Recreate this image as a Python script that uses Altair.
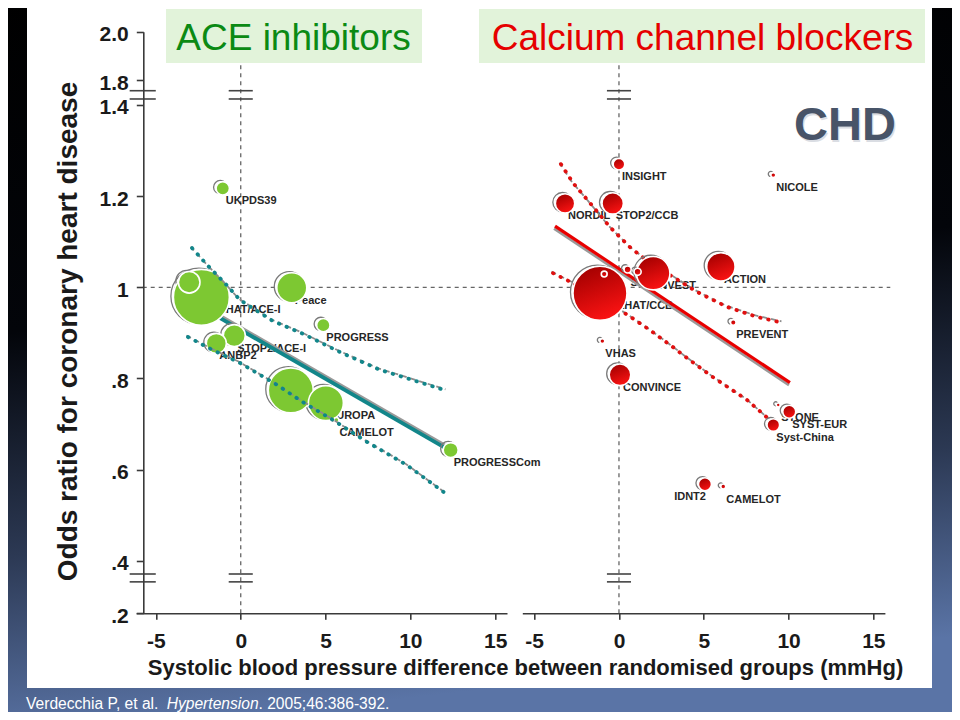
import altair as alt
import pandas as pd

# ---------------- data ----------------
# ACE inhibitors (left panel)
ace_study = ["ALLHAT/ACE-I", "HOPE", "EUROPA", "Peace", "STOP2/ACE-I", "QUIET",
             "ANBP2", "PROGRESSCom", "UKPDS39", "PROGRESS", "CAMELOT"]
ace_sbp = [-2.32, 2.95, 5.02, 3.01, -0.38, -3.04, -1.44, 12.38, -1.06, 4.87, 5.64]
ace_or = [0.978, 0.774, 0.746, 0.999, 0.894, 1.011, 0.877, 0.643, 1.217, 0.917, 0.709]
ace_weight = [100, 64.6, 39.1, 28.7, 15.4, 14.9, 12.8, 7.2, 5.7, 5.7, 0.8]

ace_fit_x = [-3.0, 12.0]
ace_fit_y = [0.971, 0.649]
ace_hi_x = [-2.87, -1.93, -0.93, -0.04, 1.90, 3.67, 5.85, 8.21, 12.16]
ace_hi_y = [1.086, 1.047, 1.009, 0.972, 0.926, 0.898, 0.858, 0.819, 0.773]
ace_lo_x = [-3.11, -1.63, -0.04, 2.14, 3.67, 5.44, 7.44, 9.80, 12.04]
ace_lo_y = [0.891, 0.862, 0.834, 0.786, 0.748, 0.709, 0.661, 0.610, 0.549]

# Calcium channel blockers (right panel)
ccb_study = ["ALLHAT/CCB", "INVEST", "ACTION", "CONVINCE", "STOP2/CCB", "NORDIL",
             "SYST-EUR", "IDNT2", "Syst-China", "INSIGHT", "SHELL", "", "",
             "PREVENT", "NICOLE", "VHAS", "CAMELOT", "STONE"]
ccb_sbp = [-1.12, 2.02, 6.01, 0.06, -0.37, -3.18, 10.04, 5.07, 9.10, 0.0, 0.51, 1.10,
           -0.87, 6.74, 9.10, -0.98, 6.15, 9.39]
ccb_or = [0.987, 1.031, 1.045, 0.808, 1.184, 1.184, 0.727, 0.568, 0.698, 1.270, 1.039,
          1.034, 1.029, 0.923, 1.246, 0.882, 0.563, 0.742]
ccb_weight = [93, 35.6, 25.7, 14.9, 14.6, 12.0, 5.4, 5.4, 5.1, 4.3, 1.6, 1.6, 1.1,
              1.0, 0.8, 0.8, 0.8, 0.5]

ccb_fit_x = [-3.77, 10.08]
ccb_fit_y = [1.134, 0.791]
ccb_hi_x = [-3.42, -2.71, -1.71, -0.53, 0.65, 1.83, 3.18, 4.60, 6.37, 8.14, 9.67]
ccb_hi_y = [1.270, 1.229, 1.185, 1.132, 1.088, 1.053, 1.023, 0.990, 0.957, 0.935, 0.922]
ccb_lo_x = [-3.89, -2.71, 0.53, 1.83, 3.18, 4.01, 5.54, 7.55, 8.90]
ccb_lo_y = [1.031, 1.009, 0.939, 0.906, 0.869, 0.845, 0.803, 0.753, 0.709]

x_ticks = [-5, 0, 5, 10, 15]
y_ticks = [0.2, 0.4, 0.6, 0.8, 1.0, 1.2, 1.4, 1.8, 2.0]
break_y = [1.628, 1.495, 0.35, 0.32]

# ---------------- layout / scales / styling ----------------
FONT = "Liberation Sans, Arial, sans-serif"
OX = 135.3          # left padding: the y axis sits at the left edge of the view
VIEW_W = 944 - OX
VIEW_H = 605.3      # x axes sit at the bottom edge of the view
PAD_B = 704 - VIEW_H

XL = alt.Scale(domain=[-6.17, 15.7], range=[128.1 - OX, 499.0 - OX], nice=False, zero=False)
XR = alt.Scale(domain=[-5.7, 15.68], range=[514.3 - OX, 876.9 - OX], nice=False, zero=False)
YS = alt.Scale(type="linear", domain=[0.2, 0.4, 1.4, 1.8, 2.0],
               range=[605.3, 552.9, 96.9, 72.0, 23.7], nice=False, zero=False)
SS = alt.Scale(type="linear", domain=[0, 100], range=[0, 3136], zero=True)

AXIS_STYLE = dict(grid=False, zindex=1, domainColor="#3a3a3a", domainWidth=1.6,
                  tickColor="#3a3a3a", tickWidth=1.6, labelFont=FONT, labelFontSize=21,
                  labelFontWeight="bold", labelColor="#1a1a1a", labelFlush=False,
                  labelOverlap=False, titleFont=FONT, titleColor="#1a1a1a",
                  titleFontWeight="bold")

xl_axis = alt.Axis(orient="bottom", values=x_ticks, tickSize=6, labelPadding=11,
                   labelExpr="datum.value + ''",
                   title="Systolic blood pressure difference between randomised groups (mmHg)",
                   titleFontSize=22, titleX=517 - OX, titleY=60.7, titleAlign="center",
                   titleBaseline="alphabetic", **AXIS_STYLE)
xr_axis = alt.Axis(orient="bottom", values=x_ticks, tickSize=6, labelPadding=11,
                   labelExpr="datum.value + ''", title=None, **AXIS_STYLE)
y_axis = alt.Axis(orient="left", values=y_ticks, tickSize=7,
                  labelPadding=8, labelBaseline="middle", labelOffset=3,
                  labelExpr="datum.value == 1 ? '1' : (datum.value < 1 ? replace(format(datum.value, '.1f'), '0.', '.') : format(datum.value, '.1f'))",
                  title="Odds ratio for coronary heart disease", titleFontSize=28,
                  titleAngle=270, titleX=-66.6, titleY=323, titleAlign="center",
                  titleBaseline="alphabetic", **AXIS_STYLE)

dummy = pd.DataFrame({"k": [0]})

ace = pd.DataFrame({"study": ace_study, "sbp": ace_sbp, "or": ace_or, "weight": ace_weight})
ccb = pd.DataFrame({"study": ccb_study, "sbp": ccb_sbp, "or": ccb_or, "weight": ccb_weight})


def X(scale, axis=None, field="sbp"):
    return alt.X(f"{field}:Q", scale=scale, axis=axis)


def Y(axis=None, field="or"):
    return alt.Y(f"{field}:Q", scale=YS, axis=axis)


def line_df(xs, ys):
    return pd.DataFrame({"sbp": xs, "or": ys})


def px(v):
    return alt.value(v - OX)


# ---------------- background ----------------
bg = alt.Chart(dummy).mark_rect(
    fill=alt.LinearGradient(
        gradient="linear", x1=0, y1=0, x2=0.15, y2=1,
        stops=[alt.GradientStop(offset=0, color="#000000"),
               alt.GradientStop(offset=0.45, color="#03050a"),
               alt.GradientStop(offset=0.75, color="#2c3954"),
               alt.GradientStop(offset=1, color="#5a74a6")])
).encode(x=px(-10), x2=px(960), y=alt.value(-10), y2=alt.value(720))

panel = alt.Chart(dummy).mark_rect(fill="white").encode(
    x=px(19), x2=px(924), y=alt.value(-2), y2=alt.value(680))

# ---------------- reference lines (these also carry the axes) ----------------
hline = alt.Chart(pd.DataFrame({"sbp": [-5.78], "sbp2": [38.3], "or": [1.0]})).mark_rule(
    stroke="#666666", strokeDash=[4, 4], strokeWidth=1.3
).encode(x=X(XL), x2="sbp2:Q", y=Y(y_axis))

vdf = pd.DataFrame({"sbp": [0], "or": [0.2], "or2": [2.0]})
vline_l = alt.Chart(vdf).mark_rule(stroke="#666666", strokeDash=[4, 4], strokeWidth=1.3).encode(
    x=X(XL, xl_axis), y=Y(), y2="or2:Q")
vline_r = alt.Chart(vdf).mark_rule(stroke="#666666", strokeDash=[4, 4], strokeWidth=1.3).encode(
    x=X(XR, xr_axis), y=Y(), y2="or2:Q")

brk_l = pd.DataFrame({
    "sbp": [-6.55] * 4 + [-0.71] * 4,
    "sbp2": [-5.01] * 4 + [0.71] * 4,
    "or": break_y * 2})
brk_r = pd.DataFrame({"sbp": [-0.71] * 4, "sbp2": [0.71] * 4, "or": break_y})
breaks_l = alt.Chart(brk_l).mark_rule(stroke="#444444", strokeWidth=1.6).encode(
    x=X(XL), x2="sbp2:Q", y=Y())
breaks_r = alt.Chart(brk_r).mark_rule(stroke="#444444", strokeWidth=1.6).encode(
    x=X(XR), x2="sbp2:Q", y=Y())

# ---------------- titles ----------------
box_ace = alt.Chart(dummy).mark_rect(fill="#e2f3da").encode(
    x=px(158), x2=px(414), y=alt.value(1), y2=alt.value(55))
box_ccb = alt.Chart(dummy).mark_rect(fill="#e2f3da").encode(
    x=px(471), x2=px(917), y=alt.value(1), y2=alt.value(55))
t_ace = alt.Chart(dummy).mark_text(text="ACE inhibitors", font=FONT, fontSize=37,
                                   color="#0b8a14", align="center", baseline="alphabetic"
                                   ).encode(x=px(285.5), y=alt.value(42))
t_ccb = alt.Chart(dummy).mark_text(text="Calcium channel blockers", font=FONT, fontSize=37,
                                   color="#e60000", align="center", baseline="alphabetic"
                                   ).encode(x=px(694.5), y=alt.value(42))
chd_shadow = alt.Chart(dummy).mark_text(text="CHD", font=FONT, fontSize=47, fontWeight="bold",
                                        color="#dadde3", align="center", baseline="alphabetic"
                                        ).encode(x=px(838.2), y=alt.value(133.6))
chd = alt.Chart(dummy).mark_text(text="CHD", font=FONT, fontSize=47, fontWeight="bold",
                                 color="#485468", align="center", baseline="alphabetic"
                                 ).encode(x=px(837), y=alt.value(132))

foot_style = dict(font=FONT, fontSize=15.6, color="white", align="left", baseline="alphabetic")
foot1 = alt.Chart(dummy).mark_text(text="Verdecchia P, et al.", **foot_style).encode(
    x=px(18), y=alt.value(701))
foot2 = alt.Chart(dummy).mark_text(text="Hypertension", fontStyle="italic", **foot_style).encode(
    x=px(158.7), y=alt.value(701))
foot3 = alt.Chart(dummy).mark_text(text=". 2005;46:386-392.", **foot_style).encode(
    x=px(250.5), y=alt.value(701))

# ---------------- study labels ----------------
lab_style = dict(font=FONT, fontSize=11, fontWeight="bold", color="#262626", baseline="middle")
lab_ace = alt.Chart(ace).mark_text(align="left", dx=3, dy=13, **lab_style).encode(
    x=X(XL), y=Y(), text="study:N")
lab_ccb = alt.Chart(ccb).transform_filter("datum.study != 'IDNT2'").mark_text(
    align="left", dx=3, dy=13, **lab_style).encode(x=X(XR), y=Y(), text="study:N")
lab_ccb2 = alt.Chart(ccb).transform_filter("datum.study == 'IDNT2'").mark_text(
    align="right", dx=1, dy=13, **lab_style).encode(x=X(XR), y=Y(), text="study:N")

# ---------------- regression lines ----------------
TEAL = "#12868a"
RED = "#e80000"
dot = dict(strokeDash=[0.5, 7.8], strokeCap="round", strokeWidth=3.8)
shadow_dash = dict(stroke="#8c8c8c", strokeDash=[5, 4], strokeWidth=1.8)


def band(xs, ys, scale, color):
    d = line_df(xs, ys)
    sh = alt.Chart(d).mark_line(xOffset=-1.5, yOffset=-1.5, **shadow_dash).encode(
        x=X(scale), y=Y())
    dt = alt.Chart(d).mark_line(stroke=color, **dot).encode(x=X(scale), y=Y())
    return sh, dt


ace_fit_sh = alt.Chart(line_df(ace_fit_x, ace_fit_y)).mark_line(
    stroke="#9a9a9a", strokeWidth=3, xOffset=1, yOffset=-2).encode(x=X(XL), y=Y())
ace_fit = alt.Chart(line_df(ace_fit_x, ace_fit_y)).mark_line(
    stroke=TEAL, strokeWidth=3.8).encode(x=X(XL), y=Y())
ccb_fit_sh = alt.Chart(line_df(ccb_fit_x, ccb_fit_y)).mark_line(
    stroke="#9a9a9a", strokeWidth=2.6, xOffset=-1, yOffset=2.5).encode(x=X(XR), y=Y())
ccb_fit = alt.Chart(line_df(ccb_fit_x, ccb_fit_y)).mark_line(
    stroke=RED, strokeWidth=3.2).encode(x=X(XR), y=Y())

ace_hi_sh, ace_hi = band(ace_hi_x, ace_hi_y, XL, TEAL)
ace_lo_sh, ace_lo = band(ace_lo_x, ace_lo_y, XL, TEAL)
ccb_hi_sh, ccb_hi = band(ccb_hi_x, ccb_hi_y, XR, "#e01010")
ccb_lo_sh, ccb_lo = band(ccb_lo_x, ccb_lo_y, XR, "#e01010")

# ---------------- bubbles ----------------
size_enc = alt.Size("weight:Q", scale=SS, legend=None)
order_enc = alt.Order("weight:Q", sort="descending")


def bubbles(df, scale, fill):
    sh = alt.Chart(df).mark_point(shape="circle", filled=False, color="#7a7a7a",
                                  strokeWidth=1.3, opacity=1, xOffset=-2.5, yOffset=-1.2
                                  ).encode(x=X(scale), y=Y(), size=size_enc, order=order_enc)
    fl = alt.Chart(df).mark_circle(fill=fill, stroke="white", strokeWidth=1.6, opacity=1,
                                   fillOpacity=1).encode(x=X(scale), y=Y(), size=size_enc,
                                                         order=order_enc)
    return sh, fl


ace_b_sh, ace_b = bubbles(ace, XL, "#7dc832")
red_grad = alt.LinearGradient(gradient="linear", x1=0.3, y1=0, x2=0.7, y2=1,
                              stops=[alt.GradientStop(offset=0, color="#a30000"),
                                     alt.GradientStop(offset=1, color="#ff1414")])
ccb_b_sh, ccb_b = bubbles(ccb, XR, red_grad)

chart = alt.layer(
    bg, panel, hline, vline_l, vline_r, breaks_l, breaks_r,
    box_ace, box_ccb, t_ace, t_ccb, chd_shadow, chd, foot1, foot2, foot3,
    lab_ace, lab_ccb, lab_ccb2,
    ace_fit_sh, ace_fit, ccb_fit_sh, ccb_fit,
    ccb_hi_sh, ccb_hi, ccb_lo_sh, ccb_lo,
    ace_b_sh, ccb_b_sh, ace_b, ccb_b,
    ace_hi_sh, ace_hi, ace_lo_sh, ace_lo,
).resolve_scale(x="independent", y="independent", size="independent").properties(
    width=VIEW_W, height=VIEW_H,
    padding={"left": OX, "top": 0, "right": 0, "bottom": PAD_B},
    autosize=alt.AutoSizeParams(type="none"),
).configure_view(stroke=None)

chart.save("out.html", embed_options={"renderer": "svg", "actions": False})
